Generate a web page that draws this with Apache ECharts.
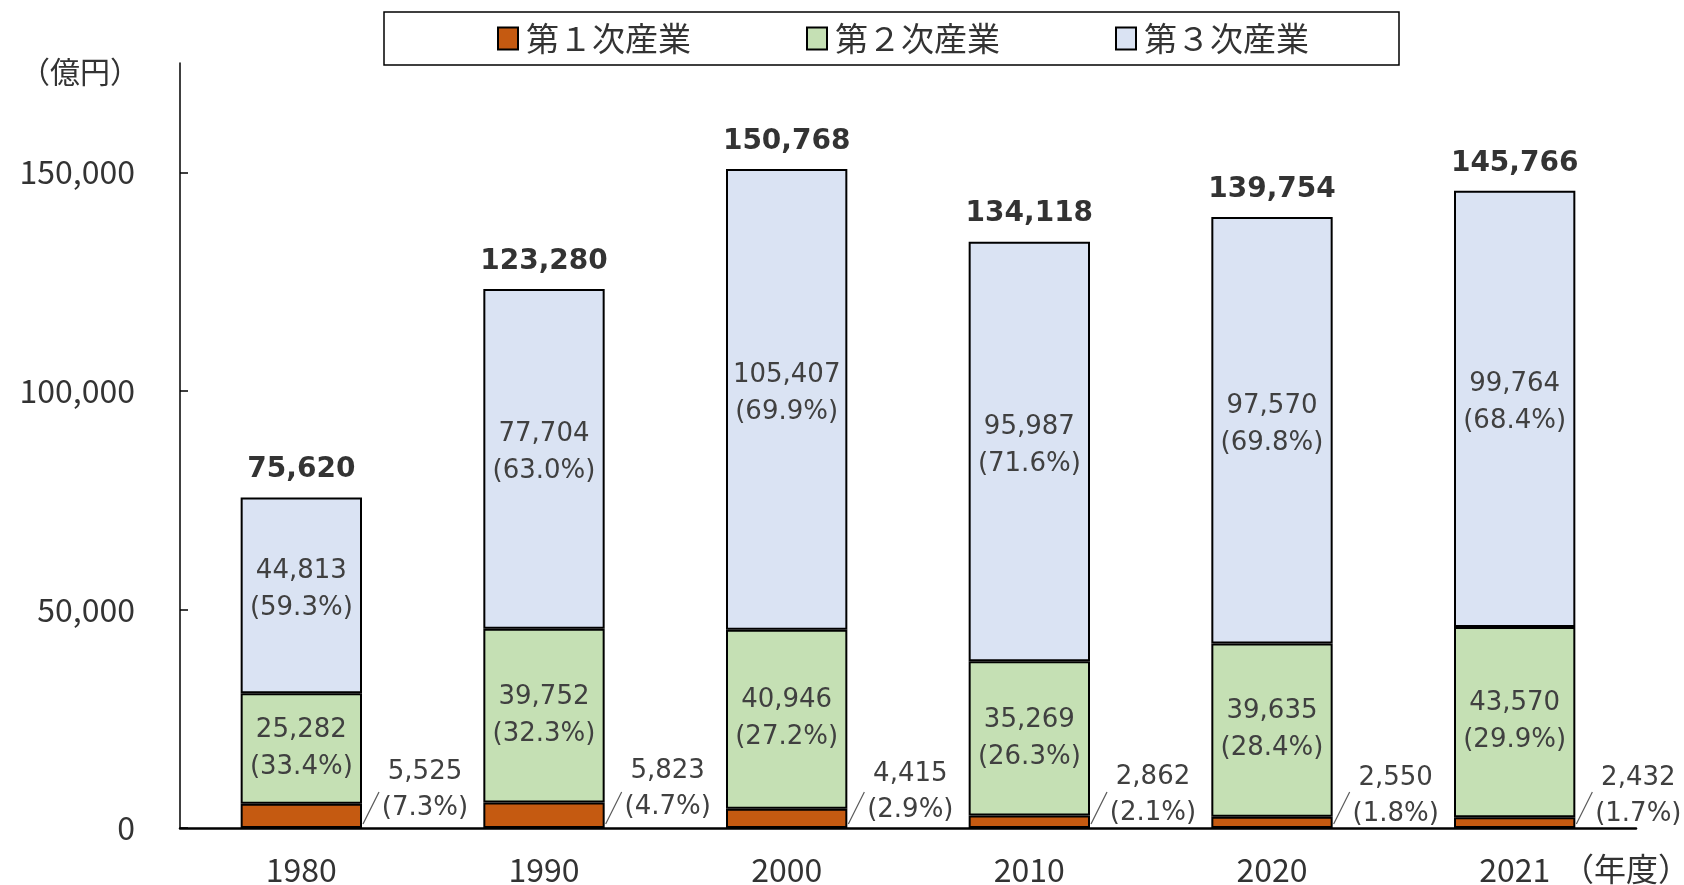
<!DOCTYPE html>
<html>
<head>
<meta charset="utf-8">
<script src="https://cdn.jsdelivr.net/npm/echarts@6/dist/echarts.min.js"></script>
<style>
html,body{margin:0;padding:0;background:#fff;}
#chart{width:1684px;height:885px;}
</style>
</head>
<body>
<div id="chart"></div>
<script>
const categories = ['1980', '1990', '2000', '2010', '2020', '2021'];
const primary = [5525, 5823, 4415, 2862, 2550, 2432];
const secondary = [25282, 39752, 40946, 35269, 39635, 43570];
const tertiary = [44813, 77704, 105407, 95987, 97570, 99764];
const totals = [75620, 123280, 150768, 134118, 139754, 145766];
const primaryPct = [7.3, 4.7, 2.9, 2.1, 1.8, 1.7];
const secondaryPct = [33.4, 32.3, 27.2, 26.3, 28.4, 29.9];
const tertiaryPct = [59.3, 63.0, 69.9, 71.6, 69.8, 68.4];
const seriesNames = ['第１次産業', '第２次産業', '第３次産業'];
const yTicks = [0, 50000, 100000, 150000];
const yUnit = '（億円）';
const xUnit = '（年度）';

const fmt = v => Number(v).toLocaleString('en-US');
const jp = 'Noto Sans CJK JP';
const dv = 'DejaVu Sans';

const chart = echarts.init(document.getElementById('chart'), null, {renderer: 'canvas'});

const barBase = {
  type: 'bar',
  stack: 'total',
  barWidth: '50%'
};

chart.setOption({
  animation: false,
  backgroundColor: '#fff',
  grid: {left: 180, right: 48, top: 63, bottom: 57, outerBoundsMode: 'none'},
  legend: {
    data: seriesNames,
    left: 384,
    top: 12,
    orient: 'horizontal',
    icon: 'rect',
    itemWidth: 20,
    itemHeight: 22,
    itemGap: 115,
    padding: [10, 90, 10, 113],
    borderColor: '#000',
    borderWidth: 1.5,
    textStyle: {fontFamily: jp, fontSize: 33, color: '#333', padding: [0, 0, 0, 3]}
  },
  graphic: [
    {
      type: 'text',
      left: 1562,
      top: 853,
      style: {text: xUnit, fontFamily: jp, fontSize: 32, fill: '#333'}
    }
  ],
  xAxis: {
    type: 'category',
    data: categories,
    axisLine: {lineStyle: {color: '#000', width: 2.5}},
    axisTick: {show: false},
    axisLabel: {fontFamily: jp, fontSize: 32, color: '#333', margin: 26}
  },
  yAxis: {
    type: 'value',
    min: 0,
    max: 175000,
    interval: 50000,
    name: yUnit,
    nameLocation: 'end',
    nameGap: -9,
    nameTextStyle: {fontFamily: jp, fontSize: 30, color: '#333', align: 'right', verticalAlign: 'middle', padding: [0, 40, 0, 0]},
    splitLine: {show: false},
    axisLine: {show: true, lineStyle: {color: '#000', width: 1.5}},
    axisTick: {show: true, inside: true, length: 8, lineStyle: {color: '#000', width: 1.5}, customValues: yTicks},
    axisLabel: {fontFamily: jp, fontSize: 32, color: '#333', margin: 45, customValues: yTicks, formatter: v => fmt(v)}
  },
  series: [
    Object.assign({}, barBase, {
      name: seriesNames[0],
      data: primary,
      itemStyle: {color: '#C55A11', borderColor: '#000', borderWidth: 2},
      label: {
        show: true,
        position: 'right',
        distance: 0,
        align: 'center',
        offset: [63, -26],
        fontFamily: dv,
        fontSize: 26,
        lineHeight: 36,
        color: '#404040',
        formatter: p => fmt(p.value) + '\n(' + primaryPct[p.dataIndex].toFixed(1) + '%)'
      }
    }),
    Object.assign({}, barBase, {
      name: seriesNames[1],
      data: secondary,
      itemStyle: {color: '#C5E0B4', borderColor: '#000', borderWidth: 2},
      label: {
        show: true,
        position: 'inside',
        fontFamily: dv,
        fontSize: 26,
        lineHeight: 37,
        color: '#404040',
        formatter: p => fmt(p.value) + '\n(' + secondaryPct[p.dataIndex].toFixed(1) + '%)'
      }
    }),
    Object.assign({}, barBase, {
      name: seriesNames[2],
      data: tertiary,
      itemStyle: {color: '#DAE3F3', borderColor: '#000', borderWidth: 2},
      label: {
        show: true,
        position: 'inside',
        offset: [0, -6],
        fontFamily: dv,
        fontSize: 26,
        lineHeight: 37,
        color: '#404040',
        formatter: p => fmt(p.value) + '\n(' + tertiaryPct[p.dataIndex].toFixed(1) + '%)'
      }
    }),
    {
      type: 'scatter',
      name: 'total',
      data: totals,
      symbolSize: 1,
      itemStyle: {color: 'transparent'},
      silent: true,
      z: 10,
      label: {
        show: true,
        position: 'top',
        distance: 13,
        fontFamily: dv,
        fontSize: 28,
        fontWeight: 'bold',
        color: '#000',
        formatter: p => fmt(p.value)
      }
    },
    {
      type: 'custom',
      name: 'leader',
      silent: true,
      z: 10,
      data: primary.map((v, i) => [i, v]),
      encode: {x: 0, y: 1},
      renderItem: function (params, api) {
        const base = api.coord([api.value(0), 0]);
        const band = api.size([1, 0])[0];
        const x0 = base[0] + band * 0.25 + 1;
        const y0 = base[1] - 4;
        return {
          type: 'line',
          shape: {x1: x0, y1: y0, x2: x0 + 16, y2: y0 - 32},
          style: {stroke: '#595959', lineWidth: 1.2}
        };
      }
    }
  ]
});
</script>
</body>
</html>
